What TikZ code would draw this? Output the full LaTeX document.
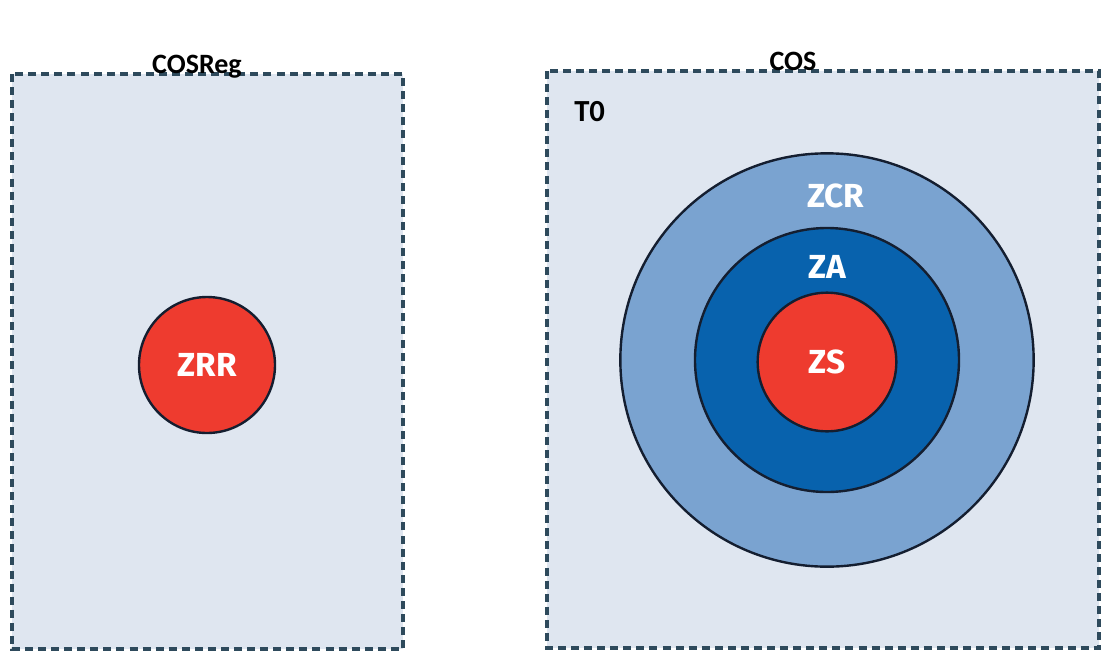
\documentclass[tikz,border=0pt]{standalone}
\usepackage{fontspec}
\setmainfont{Carlito}
\newfontfamily\zonefont{Fira Sans}
\definecolor{zoneback}{HTML}{DFE6F0}
\definecolor{zonedash}{HTML}{2E4A5C}
\definecolor{zonered}{HTML}{EE3B2F}
\definecolor{zonelight}{HTML}{7AA3D0}
\definecolor{zonedark}{HTML}{0862AD}
\definecolor{zoneline}{HTML}{141E30}
\tikzset{
  zonebox/.style={draw=zonedash,fill=zoneback,line width=2.6pt,
    dash pattern=on 6pt off 3.8pt},
  boxtitle/.style={font=\fontsize{21}{23}\selectfont\bfseries,inner sep=0pt,anchor=base},
  ring/.style={circle,draw=zoneline,line width=1.8pt,inner sep=0pt},
  ringlabel/.style={text=white,font=\zonefont\fontsize{25}{27}\selectfont\bfseries}}

\begin{document}
\begin{tikzpicture}[x=0.75pt,y=-0.75pt]
  \path[use as bounding box,fill=white] (0,0) rectangle (1101,651);

  % left frame: regional zone
  \draw[zonebox] (12,74) rectangle (403,649);
  \node[boxtitle] (cosreg) at (197,73) {COSReg};
  \node[ring,fill=zonered,minimum size=102pt,ringlabel] (zrr) at (207,365) {ZRR};

  % right frame: nested zones
  \draw[zonebox] (547,71) rectangle (1099,648);
  \node[boxtitle] (cos) at (793,70) {COS};
  \node[font=\fontsize{23}{25}\selectfont\bfseries,anchor=west,inner sep=0pt] (t0) at (574,112) {T0};
  \node[ring,fill=zonelight,minimum size=310pt] (zcrring) at (827,360) {};
  \node[ring,fill=zonedark,minimum size=198pt] (zaring) at (827,360) {};
  \node[ring,fill=zonered,minimum size=104pt,ringlabel] (zs) at (827,362) {ZS};
  \node[ringlabel] (zcr) at (836,196) {ZCR};
  \node[ringlabel] (za) at (827,267) {ZA};
\end{tikzpicture}
\end{document}
